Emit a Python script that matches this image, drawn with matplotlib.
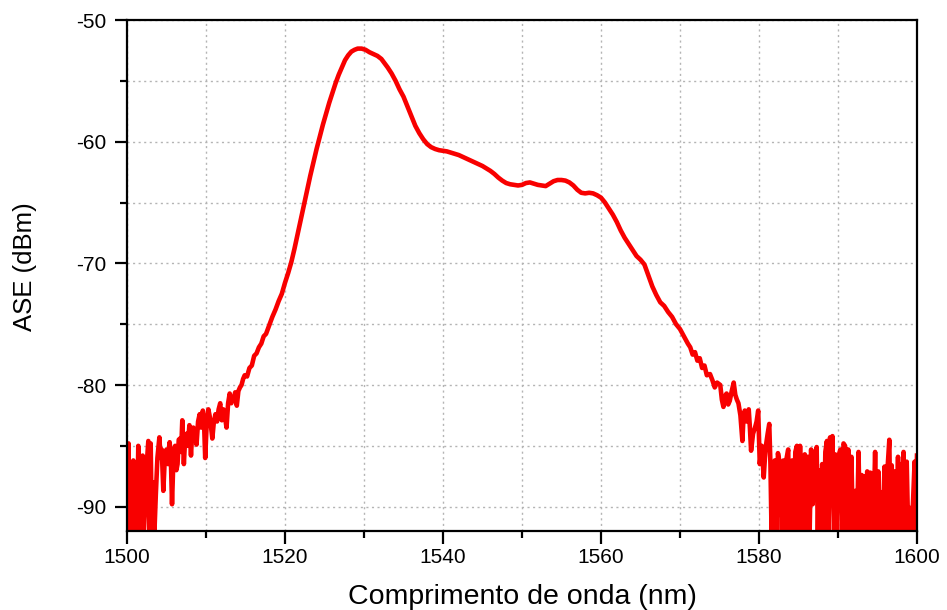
import numpy as np
import matplotlib.pyplot as plt

# ASE spectrum, read in three pieces: noisy short-wavelength tail, main band, noisy long tail
wl_short = [1500.0, 1500.1, 1500.2, 1500.3, 1500.45, 1500.6, 1500.8, 1500.95, 1501.1, 1501.25,
            1501.43, 1501.6, 1501.75, 1501.98, 1502.1, 1502.3, 1502.5, 1502.7, 1502.85, 1503.0,
            1503.15, 1503.3, 1503.45, 1503.65, 1503.85, 1504.1, 1504.25, 1504.4, 1504.6, 1504.8,
            1505.0, 1505.2, 1505.4, 1505.55, 1505.7, 1505.9, 1506.1, 1506.25, 1506.4, 1506.55,
            1506.7, 1506.85, 1507.0, 1507.2, 1507.35, 1507.55, 1507.7, 1507.9, 1508.1, 1508.25,
            1508.4, 1508.6, 1508.8, 1509.0, 1509.2, 1509.4, 1509.6, 1509.75, 1509.9, 1510.1,
            1510.3, 1510.45, 1510.65, 1510.8, 1511.0, 1511.2, 1511.4, 1511.6, 1511.8, 1512.0,
            1512.2, 1512.4, 1512.6, 1512.8, 1513.0, 1513.2, 1513.5, 1513.7, 1513.9, 1514.1,
            1514.3, 1514.5, 1514.7, 1514.9]
ase_short = [-85.0, -92.5, -84.8, -92.5, -87.0, -92.5, -86.2, -92.5, -87.0, -92.5,
             -85.0, -92.5, -87.5, -85.8, -92.5, -90.0, -86.5, -84.6, -92.5, -84.8,
             -92.5, -88.0, -92.5, -89.0, -86.0, -84.3, -86.0, -85.3, -88.7, -85.8,
             -85.3, -86.5, -84.7, -86.0, -89.8, -85.5, -85.0, -87.0, -86.5, -84.5,
             -84.4, -85.5, -82.9, -86.5, -84.5, -84.0, -85.0, -83.3, -85.8, -84.0,
             -83.5, -84.0, -84.9, -83.0, -82.4, -83.5, -82.1, -83.0, -86.0, -83.0,
             -82.0, -82.5, -83.5, -84.4, -83.0, -82.4, -83.0, -82.0, -81.5, -82.9,
             -82.0, -82.6, -83.5, -81.5, -80.7, -81.5, -81.1, -80.6, -81.7, -80.5,
             -80.2, -80.0, -79.5, -79.2]

wl_band = [1515.2, 1515.5, 1515.8, 1516.1, 1516.4, 1516.7, 1517.0, 1517.3, 1517.6, 1518.0,
           1518.4, 1518.8, 1519.2, 1519.6, 1520.0, 1520.4, 1520.8, 1521.2, 1521.6, 1522.0,
           1522.4, 1522.8, 1523.2, 1523.6, 1524.0, 1524.4, 1524.8, 1525.2, 1525.6, 1526.0,
           1526.4, 1526.8, 1527.2, 1527.6, 1528.0, 1528.4, 1528.8, 1529.2, 1529.7, 1530.2,
           1530.7, 1531.2, 1531.7, 1532.2, 1532.6, 1533.0, 1533.5, 1534.0, 1534.5, 1535.0,
           1535.5, 1536.0, 1536.5, 1537.0, 1537.5, 1538.0, 1538.5, 1539.0, 1539.5, 1540.0,
           1540.5, 1541.0, 1541.5, 1542.0, 1542.5, 1543.0, 1543.5, 1544.0, 1544.5, 1545.0,
           1545.5, 1546.0, 1546.5, 1547.0, 1547.5, 1548.0, 1548.5, 1549.0, 1549.5, 1550.0,
           1550.5, 1551.0, 1551.5, 1552.0, 1552.5, 1553.0, 1553.5, 1554.0, 1554.5, 1555.0,
           1555.5, 1556.0, 1556.5, 1557.0, 1557.5, 1558.0, 1558.5, 1559.0, 1559.5, 1560.0,
           1560.5, 1561.0, 1561.5, 1562.0, 1562.5, 1563.0, 1563.5, 1564.0, 1564.5, 1565.0,
           1565.5, 1566.0, 1566.5, 1567.0, 1567.5, 1568.0, 1568.5, 1569.0, 1569.5, 1570.0,
           1570.5, 1571.0]
ase_band = [-79.3, -78.6, -78.4, -77.6, -77.4, -76.9, -76.6, -76.0, -75.8, -75.1,
            -74.4, -73.8, -73.1, -72.5, -71.6, -70.8, -69.9, -68.8, -67.6, -66.4,
            -65.2, -64.0, -62.8, -61.7, -60.6, -59.6, -58.6, -57.7, -56.8, -56.0,
            -55.2, -54.5, -53.9, -53.3, -52.9, -52.6, -52.45, -52.35, -52.35, -52.45,
            -52.65, -52.8, -52.95, -53.2, -53.55, -53.9, -54.4, -55.0, -55.7, -56.3,
            -57.1, -57.9, -58.7, -59.3, -59.8, -60.2, -60.45, -60.6, -60.7, -60.75,
            -60.8, -60.9, -61.0, -61.1, -61.25, -61.4, -61.55, -61.7, -61.85, -62.0,
            -62.2, -62.4, -62.65, -62.95, -63.2, -63.4, -63.5, -63.55, -63.6, -63.55,
            -63.4, -63.35, -63.45, -63.55, -63.6, -63.65, -63.45, -63.25, -63.15, -63.15,
            -63.2, -63.35, -63.6, -63.95, -64.2, -64.25, -64.2, -64.25, -64.4, -64.6,
            -65.0, -65.5, -66.0, -66.6, -67.3, -67.9, -68.4, -68.9, -69.4, -69.7,
            -70.1, -71.0, -71.9, -72.6, -73.2, -73.5, -74.0, -74.4, -75.0, -75.4,
            -76.0, -76.6]

wl_long = [1571.3, 1571.6, 1571.9, 1572.2, 1572.5, 1572.8, 1573.1, 1573.4, 1573.8, 1574.1,
           1574.4, 1574.7, 1575.1, 1575.3, 1575.5, 1575.7, 1575.9, 1576.1, 1576.3, 1576.55,
           1576.8, 1577.0, 1577.2, 1577.4, 1577.65, 1577.9, 1578.05, 1578.2, 1578.45, 1578.7,
           1578.85, 1579.0, 1579.25, 1579.5, 1579.7, 1579.9, 1580.1, 1580.35, 1580.6, 1580.75,
           1580.9, 1581.1, 1581.3, 1581.45, 1581.6, 1581.8, 1582.0, 1582.2, 1582.4, 1582.65,
           1582.9, 1583.1, 1583.3, 1583.5, 1583.7, 1583.85, 1584.0, 1584.2, 1584.4, 1584.6,
           1584.8, 1585.0, 1585.2, 1585.4, 1585.6, 1585.8, 1586.0, 1586.2, 1586.4, 1586.6,
           1586.8, 1587.0, 1587.3, 1587.45, 1587.6, 1587.8, 1588.0, 1588.2, 1588.4, 1588.6,
           1588.8, 1589.0, 1589.15, 1589.3, 1589.5, 1589.65, 1589.8, 1590.0, 1590.3, 1590.5,
           1590.7, 1590.9, 1591.1, 1591.3, 1591.5, 1591.7, 1591.9, 1592.2, 1592.4, 1592.6,
           1592.8, 1593.0, 1593.2, 1593.4, 1593.55, 1593.7, 1593.9, 1594.1, 1594.3, 1594.45,
           1594.7, 1594.9, 1595.1, 1595.3, 1595.4, 1595.6, 1595.9, 1596.1, 1596.3, 1596.5,
           1596.65, 1596.8, 1597.0, 1597.2, 1597.4, 1597.6, 1597.75, 1597.9, 1598.1, 1598.3,
           1598.5, 1598.7, 1598.9, 1599.1, 1599.3, 1599.5, 1599.7, 1599.85, 1600.0]
ase_long = [-76.9, -77.5, -77.3, -78.0, -77.8, -78.6, -78.4, -79.2, -79.1, -79.6,
            -80.2, -79.8, -80.0, -81.2, -81.8, -80.9, -80.7, -81.6, -81.3, -80.5,
            -79.8, -80.8, -81.2, -81.5, -82.5, -84.6, -82.5, -82.1, -83.0, -82.0,
            -83.5, -85.4, -84.0, -83.5, -83.0, -82.1, -86.5, -85.0, -87.6, -86.0,
            -84.9, -84.0, -83.2, -86.5, -92.5, -87.6, -86.2, -92.5, -85.6, -86.5,
            -92.5, -86.2, -92.5, -86.0, -85.3, -92.5, -88.0, -86.2, -92.5, -85.5,
            -85.0, -92.5, -85.0, -92.5, -86.5, -85.7, -92.5, -85.9, -92.5, -85.3,
            -89.8, -86.0, -85.1, -92.5, -87.0, -92.5, -86.5, -92.5, -85.5, -84.6,
            -92.5, -84.3, -88.0, -84.2, -92.5, -85.7, -92.5, -86.0, -85.3, -92.5,
            -84.8, -85.0, -92.5, -85.3, -92.5, -85.9, -92.5, -88.7, -92.5, -85.5,
            -92.5, -87.4, -92.5, -87.5, -92.5, -87.1, -92.5, -87.2, -87.4, -92.5,
            -85.5, -92.5, -87.1, -92.5, -88.8, -92.5, -86.7, -92.5, -86.6, -84.5,
            -92.5, -86.6, -92.5, -87.1, -92.5, -85.9, -92.5, -86.5, -92.5, -85.5,
            -92.5, -86.3, -92.5, -90.1, -92.5, -89.6, -86.3, -92.5, -85.8]

wl = np.concatenate([wl_short, wl_band, wl_long])
ase = np.concatenate([ase_short, ase_band, ase_long])

plt.rcParams['font.family'] = ['Liberation Sans', 'DejaVu Sans']
plt.rcParams['axes.unicode_minus'] = False

fig = plt.figure(figsize=(9.47, 6.10), dpi=100)
ax = fig.add_axes([0.1341, 0.1295, 0.8342, 0.8377])

ax.plot(wl, ase, color='#f80000', lw=3.3, solid_joinstyle='round')

ax.set_xlim(1500, 1600)
ax.set_ylim(-92, -50)
ax.set_xticks(np.arange(1500, 1601, 20))
ax.set_xticks(np.arange(1510, 1600, 20), minor=True)
ax.set_yticks(np.arange(-90, -49, 10))
ax.set_yticks(np.arange(-85, -50, 10), minor=True)

ax.grid(True, which='both', color='#b4b4b4', lw=1.0, linestyle=(0, (1.5, 2.5)))
ax.set_axisbelow(True)

for s in ax.spines.values():
    s.set_linewidth(1.6)
ax.tick_params(which='major', direction='out', length=9, width=1.6, labelsize=15, pad=3)
ax.tick_params(which='minor', direction='out', length=5, width=1.6)
ax.tick_params(axis='y', which='major', pad=6)

ax.set_xlabel('Comprimento de onda (nm)', fontsize=20.5)
ax.set_ylabel('ASE (dBm)', fontsize=18.5)
ax.xaxis.set_label_coords(0.5, -0.104)
ax.yaxis.set_label_coords(-0.114, 0.517)

fig.savefig('out.png', dpi=100)
